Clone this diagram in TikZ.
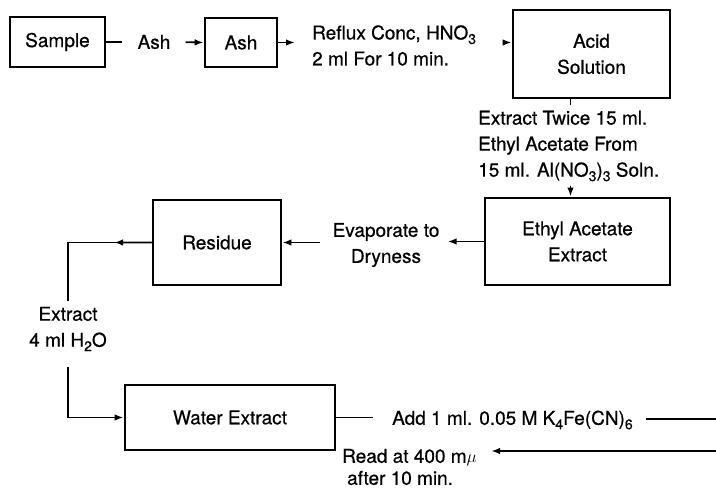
\documentclass[tikz,border=0pt]{standalone}
\usepackage{fontspec}
\setmainfont{TeX Gyre Heros}[FakeBold=0.6]
\usetikzlibrary{positioning,arrows.meta,calc}
\newcommand{\chemsub}[1]{\raisebox{-0.45ex}{\fontsize{14}{14}\selectfont #1}}

\begin{document}
\begin{tikzpicture}[
    x=1pt, y=-1pt,
    every node/.style={font=\fontsize{19}{26}\selectfont},
    procbox/.style={
        draw,
        line width=2.6pt,
        align=center,
        inner sep=0pt
    },
    flow/.style={-{Latex[length=9pt,width=6.5pt]}, line width=1.8pt},
    plain/.style={line width=1.8pt},
    note/.style={align=left, inner sep=0pt}
]
\useasboundingbox (0,0) rectangle (716,489);

% process boxes
\node[procbox, minimum width=95pt, minimum height=50pt] (sample) at (57.5,42) {Sample};
\node[procbox, minimum width=72pt, minimum height=49pt] (ash) at (241,42.5) {Ash};
\node[procbox, minimum width=157pt, minimum height=88pt] (acid) at (591.5,54) {Acid\\Solution};
\node[procbox, minimum width=185pt, minimum height=87pt] (ethyl) at (577.5,241.5) {Ethyl Acetate\\Extract};
\node[procbox, minimum width=128pt, minimum height=85pt] (residue) at (217,242.5) {Residue};
\node[procbox, minimum width=210pt, minimum height=65pt] (water) at (230,417.5) {Water Extract};

% step texts
\node[inner sep=0pt] (ashing) at (154,42) {Ash};
\node[note, anchor=west] (reflux) at (312,45.5)
    {Reflux Conc, HNO\chemsub{3}\\2 ml For 10 min.};
\node[note, anchor=west] (twice) at (478,146)
    {Extract Twice 15 ml.\\Ethyl Acetate From\\15 ml. Al(NO\chemsub{3})\chemsub{3} Soln.};
\node[align=center, inner sep=0pt] (evap) at (386,245) {Evaporate to\\Dryness};
\node[align=center, inner sep=0pt] (water4) at (68,329) {Extract\\4 ml H\chemsub{2}O};
\node[note, anchor=west] (add) at (392,420) {Add 1 ml. 0.05 M K\chemsub{4}Fe(CN)\chemsub{6}};
\node[note, anchor=west, font=\fontsize{19}{22}\selectfont] (read) at (342,467)
    {Read at 400 m$\mu$\\\hspace{5pt}after 10 min.};

\coordinate (outA) at (716,419);
\coordinate (outB) at (716,451);
\coordinate (turn) at (water4.north |- residue.west);

% connectors
\draw[plain, shorten >=15pt] (sample.east) -- (ashing.west);
\draw[flow, shorten <=15pt] (ashing.east) -- (ash.west);
\draw[flow, shorten >=17pt] (ash.east) -- (ash.east -| reflux.west);
\draw[flow, shorten <=27pt] (ash.east -| reflux.east) -- (ash.east -| acid.west);
\draw[plain] ([xshift=-7pt]acid.south -| ethyl.north) -- ([xshift=-7pt,yshift=-6pt]acid.south -| ethyl.north);
\draw[flow] ([xshift=-7pt,yshift=11pt]ethyl.north) -- ([xshift=-7pt]ethyl.north);
\draw[flow, shorten >=8pt] (ethyl.west) -- (ethyl.west -| evap.east);
\draw[flow, shorten <=12pt] (evap.west |- residue.east) -- (residue.east);
\draw[plain, shorten >=6pt] (residue.west) -- (turn) -- (water4.north);
\draw[flow] (residue.west) -- ($(residue.west)!0.45!(turn)$);
\draw[flow, shorten <=16pt] (water4.south) |- (water.west);
\draw[plain, shorten >=19pt] (water.east) -- (water.east -| add.west);
\draw[plain, shorten <=13pt] (add.east |- outA) -- (outA);
\draw[flow, shorten >=14pt] (outB) -- (outB -| read.east);

\end{tikzpicture}
\end{document}
